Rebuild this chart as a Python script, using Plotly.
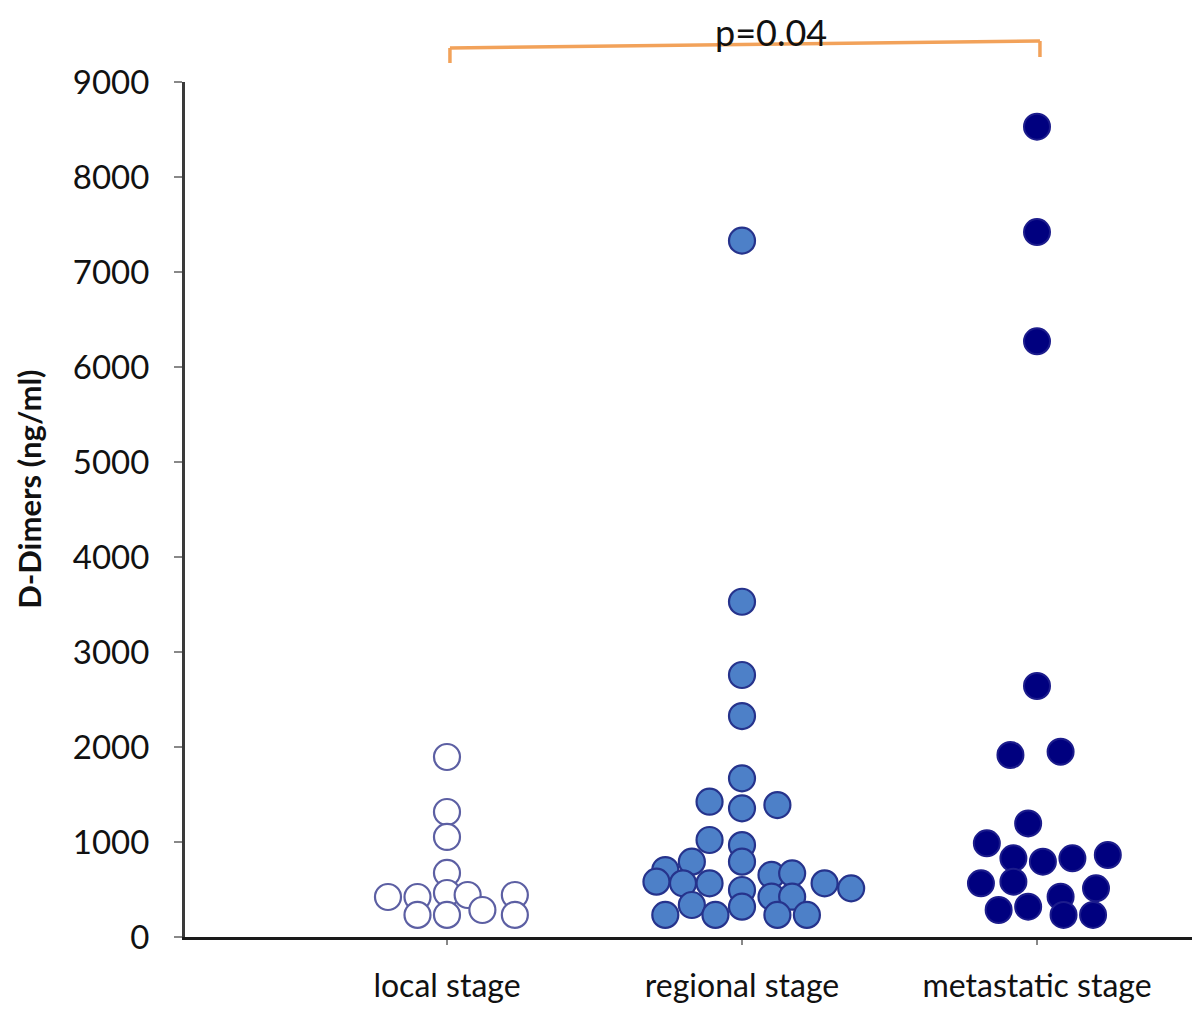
import plotly.graph_objects as go

# ---------------- data ----------------
categories = ["local stage", "regional stage", "metastatic stage"]
cat_pos = [1, 2, 3]

local_x = [1.00, 1.00, 1.00, 1.00, 0.80, 0.90, 1.00, 1.07, 1.12, 1.23, 1.23, 0.90, 1.00]
local_y = [1895, 1316, 1053, 674, 421, 421, 463, 442, 284, 442, 232, 232, 232]

regional_x = [2.00, 2.00, 2.00, 2.00, 2.00, 1.89, 2.00, 2.12, 1.89, 2.00, 2.00, 1.83, 1.74,
              1.71, 1.80, 1.89, 2.00, 2.00, 2.10, 2.17, 2.10, 2.17, 2.28, 2.37, 1.74, 1.83,
              1.91, 2.12, 2.22]
regional_y = [7330, 3529, 2758, 2326, 1670, 1424, 1354, 1389, 1021, 968, 793, 793, 705,
              582, 565, 565, 495, 319, 653, 670, 424, 424, 565, 512, 232, 337,
              232, 232, 232]

metastatic_x = [3.00, 3.00, 3.00, 3.00, 2.91, 3.08, 2.97, 2.83, 2.92, 3.02, 3.12, 3.24,
                2.81, 2.92, 3.08, 3.20, 2.87, 2.97, 3.09, 3.19]
metastatic_y = [8530, 7420, 6270, 2642, 1916, 1951, 1196, 986, 828, 793, 828, 863,
                565, 582, 424, 512, 284, 319, 232, 232]

y_ticks = [0, 1000, 2000, 3000, 4000, 5000, 6000, 7000, 8000, 9000]
y_range = [0, 9000]
x_range = [0.1119, 3.5254]

p_text = "p=0.04"
# bracket between local (x=1) and metastatic (x=3) stage, in data units
bracket_x = [1.01, 3.01]
bracket_top = [9358, 9432]
bracket_bottom = [9200, 9263]

FONT = "Lato, 'Open Sans', sans-serif"

fig = go.Figure()

fig.add_trace(go.Scatter(
    x=local_x, y=local_y, mode="markers", showlegend=False,
    marker=dict(size=26, color="white", line=dict(color="#5c5fa3", width=2.2)),
    cliponaxis=False,
))
fig.add_trace(go.Scatter(
    x=regional_x, y=regional_y, mode="markers", showlegend=False,
    marker=dict(size=26, color="#4d80c8", line=dict(color="#26338c", width=2.2)),
    cliponaxis=False,
))
fig.add_trace(go.Scatter(
    x=metastatic_x, y=metastatic_y, mode="markers", showlegend=False,
    marker=dict(size=26, color="#00007f", line=dict(color="#1c1c8c", width=2)),
    cliponaxis=False,
))


def xd(v):
    return (v - x_range[0]) / (x_range[1] - x_range[0])


def yd(v):
    return (v - y_range[0]) / (y_range[1] - y_range[0])


orange = "#f2a25a"
fig.add_shape(type="line", xref="x domain", yref="y domain",
              x0=xd(bracket_x[0]), y0=yd(bracket_top[0]),
              x1=xd(bracket_x[1]), y1=yd(bracket_top[1]),
              line=dict(color=orange, width=3.5))
fig.add_shape(type="line", xref="x domain", yref="y domain",
              x0=xd(bracket_x[0]), y0=yd(bracket_top[0]),
              x1=xd(bracket_x[0]), y1=yd(bracket_bottom[0]),
              line=dict(color=orange, width=3.5))
fig.add_shape(type="line", xref="x domain", yref="y domain",
              x0=xd(bracket_x[1]), y0=yd(bracket_top[1]),
              x1=xd(bracket_x[1]), y1=yd(bracket_bottom[1]),
              line=dict(color=orange, width=3.5))

fig.add_annotation(text=p_text, xref="x domain", yref="y domain",
                   x=xd(2.10), y=yd(9530), xanchor="center", yanchor="middle",
                   showarrow=False, font=dict(family=FONT, size=36, color="#111111"))

fig.add_annotation(text="<b>D-Dimers (ng/ml)</b>", xref="paper", yref="paper",
                   x=(21 - 177) / 1007, y=0.523, xanchor="center", yanchor="middle",
                   textangle=-90, showarrow=False,
                   font=dict(family=FONT, size=31, color="#111111"))

fig.update_layout(
    width=1184, height=998,
    margin=dict(l=177, r=0, t=74, b=69),
    paper_bgcolor="white", plot_bgcolor="white",
    font=dict(family=FONT, color="#111111"),
    xaxis=dict(
        range=x_range, tickmode="array", tickvals=cat_pos, ticktext=categories,
        showgrid=False, zeroline=False, showline=True, linecolor="#1a1a1a", linewidth=3,
        ticks="outside", ticklen=5, tickwidth=1.5, tickcolor="#888888",
        tickfont=dict(family=FONT, size=32, color="#111111"),
        ticklabelstandoff=14, automargin=False,
    ),
    yaxis=dict(
        range=y_range, tickmode="array", tickvals=y_ticks,
        showgrid=False, zeroline=False, showline=True, linecolor="#3a3a3a", linewidth=3,
        ticks="outside", ticklen=8, tickwidth=2, tickcolor="#888888",
        tickfont=dict(family=FONT, size=33, color="#111111"),
        ticklabelstandoff=18, automargin=False,
    ),
)

fig.write_html("out.html")
